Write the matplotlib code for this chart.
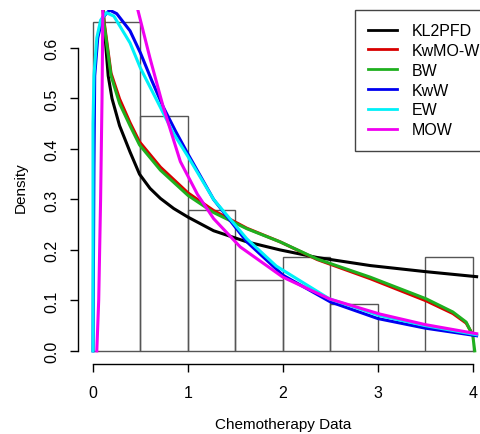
import numpy as np
import matplotlib
matplotlib.use("Agg")
import matplotlib.pyplot as plt

plt.rcParams['font.family'] = ['Liberation Sans', 'DejaVu Sans']

# histogram of the chemotherapy data (counts per 0.5 wide bin)
bin_edges = [0, 0.5, 1.0, 1.5, 2.0, 2.5, 3.0, 3.5, 4.0]
bin_counts = [14, 10, 6, 3, 4, 2, 0, 4]

# fitted densities
kl2pfd_x = [0.10, 0.115, 0.16, 0.20, 0.28, 0.39, 0.49, 0.60, 0.71, 0.85, 1.00, 1.27, 1.62, 1.97, 2.36, 2.92, 3.50, 4.04]
kl2pfd_y = [0.70, 0.650, 0.545, 0.50, 0.446, 0.394, 0.350, 0.322, 0.302, 0.282, 0.265, 0.238, 0.216, 0.200, 0.185, 0.169, 0.157, 0.147]

kwmow_x = [0.10, 0.115, 0.19, 0.28, 0.39, 0.49, 0.71, 1.00, 1.27, 1.62, 1.97, 2.36, 2.92, 3.51, 3.79, 3.93, 4.00]
kwmow_y = [0.70, 0.655, 0.550, 0.499, 0.452, 0.414, 0.364, 0.313, 0.278, 0.243, 0.216, 0.181, 0.143, 0.099, 0.074, 0.055, 0.032]

bw_x = [0.10, 0.115, 0.19, 0.28, 0.39, 0.49, 0.71, 1.00, 1.27, 1.62, 1.97, 2.36, 2.92, 3.51, 3.79, 3.93, 4.00, 4.02]
bw_y = [0.70, 0.650, 0.545, 0.490, 0.446, 0.408, 0.358, 0.308, 0.274, 0.242, 0.216, 0.182, 0.146, 0.103, 0.077, 0.057, 0.030, 0.0]

kww_x = [0.00, 0.01, 0.018, 0.05, 0.10, 0.175, 0.25, 0.39, 0.50, 0.62, 0.74, 0.87, 1.00, 1.27, 1.62, 2.00, 2.50, 3.00, 3.50, 4.04]
kww_y = [0.00, 0.36, 0.545, 0.62, 0.66, 0.675, 0.668, 0.634, 0.59, 0.535, 0.483, 0.435, 0.39, 0.30, 0.216, 0.150, 0.097, 0.064, 0.045, 0.030]

ew_x = [0.00, 0.00, 0.01, 0.04, 0.08, 0.14, 0.22, 0.39, 0.50, 0.70, 0.85, 1.00, 1.27, 1.62, 1.93, 2.49, 3.02, 3.50, 4.04]
ew_y = [0.00, 0.45, 0.545, 0.62, 0.655, 0.670, 0.663, 0.61, 0.56, 0.486, 0.43, 0.385, 0.30, 0.222, 0.168, 0.103, 0.070, 0.050, 0.032]

# MOW leaves the top of the plot, so its line is broken there
mow_x = [0.04, 0.06, 0.08, 0.095, 0.105, np.nan, 0.46, 0.47, 0.60, 0.74, 0.92, 1.10, 1.27, 1.55, 2.00, 2.49, 3.02, 3.50, 4.04]
mow_y = [0.00, 0.10, 0.30, 0.50, 0.70, np.nan, 0.70, 0.677, 0.58, 0.483, 0.375, 0.31, 0.262, 0.206, 0.146, 0.103, 0.073, 0.052, 0.034]

models = ["KL2PFD", "KwMO-W", "BW", "KwW", "EW", "MOW"]
colors = ["black", "#d80000", "#1fb01f", "#0000f0", "#00f0f8", "#f000f0"]
curves = [(kl2pfd_x, kl2pfd_y), (kwmow_x, kwmow_y), (bw_x, bw_y),
          (kww_x, kww_y), (ew_x, ew_y), (mow_x, mow_y)]

fig = plt.figure(figsize=(4.8, 4.35), dpi=100)
ax = fig.add_axes([0.1621, 0.1609, 0.8546, 0.8147])

mids = [(a + b) / 2 for a, b in zip(bin_edges[:-1], bin_edges[1:])]
ax.hist(mids, bins=bin_edges, weights=bin_counts, density=True,
        facecolor="none", edgecolor="#555555", linewidth=1.0)

for name, col, (cx, cy) in zip(models, colors, curves):
    ax.plot(cx, cy, color=col, linewidth=2.2, label=name)

ax.set_xlim(-0.16, 4.16)
ax.set_ylim(-0.026, 0.676)
ax.set_xticks([0, 1, 2, 3, 4])
ax.set_yticks([0.0, 0.1, 0.2, 0.3, 0.4, 0.5, 0.6])
ax.set_yticklabels(["0.0", "0.1", "0.2", "0.3", "0.4", "0.5", "0.6"])

# R style axes: no box, lines only across the tick range
for side in ["top", "right"]:
    ax.spines[side].set_visible(False)
ax.spines["left"].set_bounds(0, 0.6)
ax.spines["bottom"].set_bounds(0, 4)
for side in ["left", "bottom"]:
    ax.spines[side].set_linewidth(1.0)

ax.tick_params(axis="both", direction="out", length=5.8, width=1.0,
               labelsize=11.5, colors="black")
ax.tick_params(axis="y", labelrotation=90, pad=7.5)
ax.tick_params(axis="x", pad=9.5)
for lab in ax.get_yticklabels():
    lab.set_va("center")

ax.set_xlabel("Chemotherapy Data", fontsize=11, labelpad=12)
ax.set_ylabel("Density", fontsize=11, labelpad=12)

leg = ax.legend(loc="upper right", bbox_to_anchor=(1.015, 1.0), borderaxespad=0,
                fontsize=11.5, handlelength=1.8, handletextpad=0.95,
                labelspacing=0.3, borderpad=0.85, fancybox=False,
                framealpha=1, edgecolor="#444444")
leg.get_frame().set_linewidth(1.0)
for line in leg.get_lines():
    line.set_linewidth(2.0)

fig.savefig("out.png", dpi=100)
